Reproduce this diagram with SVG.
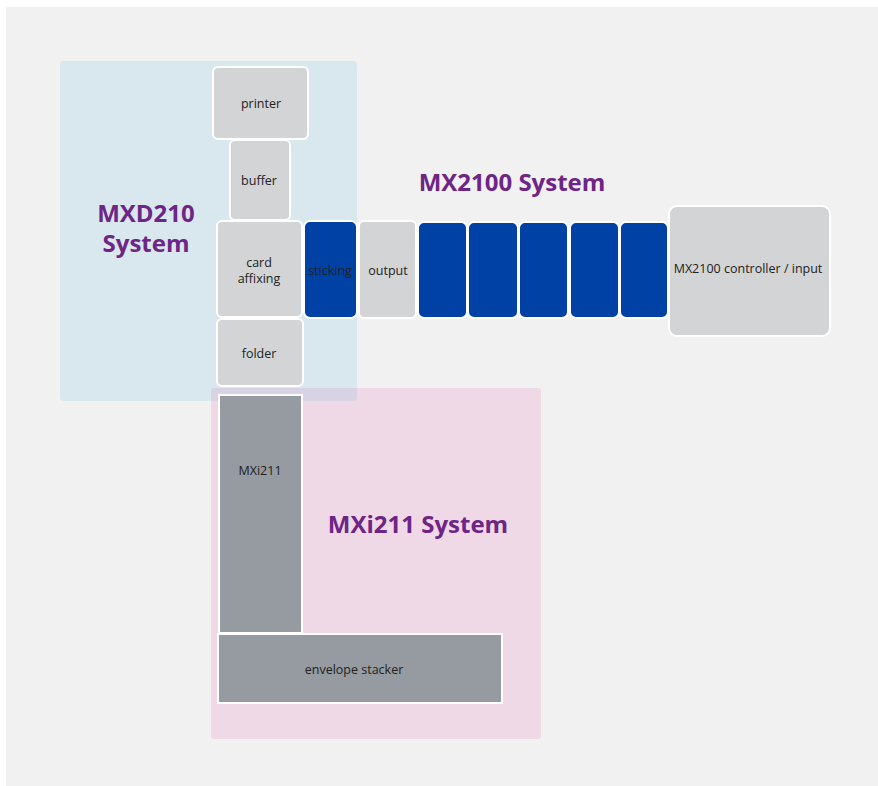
<svg xmlns="http://www.w3.org/2000/svg" width="878" height="786" viewBox="0 0 878 786">
<style>
.lt{fill:#d3d4d6;stroke:#fff;stroke-width:2}
.bl{fill:#0041a6;stroke:#fff;stroke-width:2}
.dk{fill:#959ba0;stroke:#fff;stroke-width:2}
.lb{font-family:"Open Sans","Liberation Sans",sans-serif;font-size:12.5px;fill:#222;text-anchor:middle}
.tt{font-family:"Open Sans","Liberation Sans",sans-serif;font-size:24px;font-weight:bold;fill:#6e2585;text-anchor:middle}
</style>
<rect x="0" y="0" width="878" height="786" fill="#fff"/>
<rect x="6" y="7" width="872" height="779" fill="#f1f1f1"/>
<g id="mxi211-system">
<rect x="211" y="388" width="330" height="351" rx="3" fill="#efd9e6"/>
<text class="tt" x="418" y="533">MXi211 System</text>
</g>
<g id="mxd210-system">
<rect x="60" y="61" width="297" height="340" rx="4" fill="rgb(81,181,227)" fill-opacity="0.15"/>
<text class="tt" x="146" y="222">MXD210</text>
<text class="tt" x="146" y="252">System</text>
</g>
<g id="mx2100-system">
<text class="tt" x="512" y="191">MX2100 System</text>
</g>
<g id="connectors"></g>
<g id="printer"><rect class="lt" x="213" y="67" width="95" height="72" rx="5"/><text class="lb" x="261" y="108">printer</text></g>
<g id="buffer"><rect class="lt" x="230" y="140" width="60" height="80" rx="5"/><text class="lb" x="259" y="185">buffer</text></g>
<g id="card-affixing"><rect class="lt" x="217" y="221" width="85" height="96" rx="5"/><text class="lb" x="259" y="267">card</text><text class="lb" x="259" y="283">affixing</text></g>
<g id="sticking"><rect class="bl" x="304" y="221" width="53" height="97" rx="6"/><text class="lb" x="330" y="275">sticking</text></g>
<g id="output"><rect class="lt" x="359" y="221" width="57" height="97" rx="5"/><text class="lb" x="388" y="275">output</text></g>
<g id="module1"><rect class="bl" x="418" y="222" width="49" height="96" rx="6"/></g>
<g id="module2"><rect class="bl" x="468" y="222" width="50" height="96" rx="6"/></g>
<g id="module3"><rect class="bl" x="519" y="222" width="49" height="96" rx="6"/></g>
<g id="module4"><rect class="bl" x="570" y="222" width="49" height="96" rx="6"/></g>
<g id="module5"><rect class="bl" x="620" y="222" width="48" height="96" rx="6"/></g>
<g id="controller"><rect class="lt" x="669" y="206" width="161" height="130" rx="8"/><text class="lb" x="748" y="273">MX2100 controller / input</text></g>
<g id="folder"><rect class="lt" x="217" y="319" width="86" height="67" rx="5"/><text class="lb" x="259" y="358">folder</text></g>
<g id="mxi211"><rect class="dk" x="219" y="395" width="83" height="238"/><text class="lb" x="260" y="475">MXi211</text></g>
<g id="envelope-stacker"><rect class="dk" x="218" y="634" width="284" height="69"/><text class="lb" x="354" y="674">envelope stacker</text></g>
</svg>
